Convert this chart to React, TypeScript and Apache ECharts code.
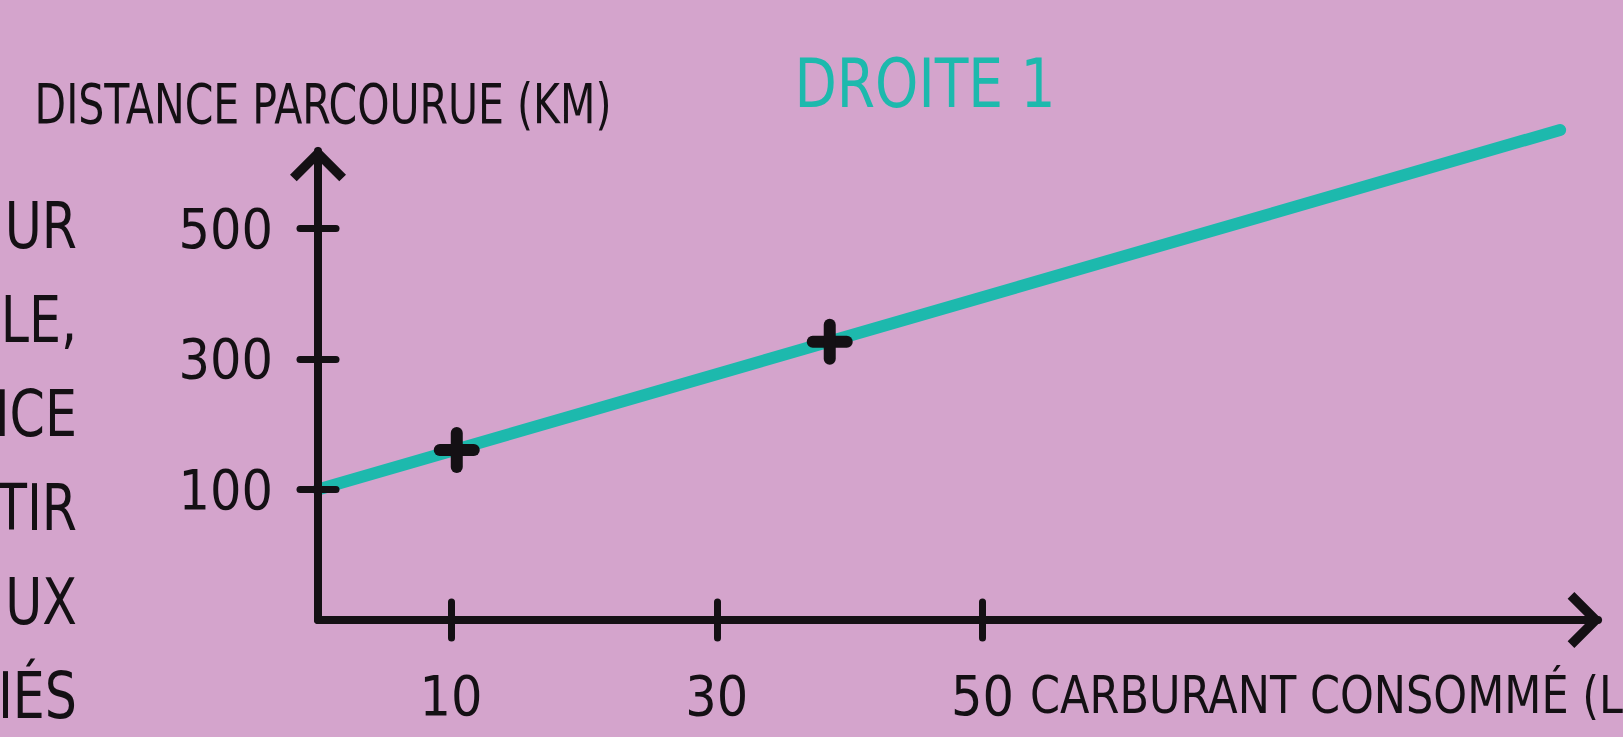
import React, { useEffect, useRef } from 'react';
import * as echarts from 'echarts';

// ---- data ----
const lineFuel = [0, 93.45];
const lineDistance = [100, 651];
const measuredFuel = [10.44, 38.5];
const measuredDistance = [160.5, 326.5];
const xTickValues = [10, 30, 50];
const yTickValues = [100, 300, 500];
const sideTextLines = ['UR', 'LE,', 'NCE', 'TIR', 'UX', 'IÉS'];
const titleText = 'DROITE 1';
const yAxisName = 'DISTANCE PARCOURUE (KM)';
const xAxisName = 'CARBURANT CONSOMMÉ (L)';

// ---- styles ----
const BG = '#d4a4cc';
const TEAL = '#1db9ad';
const INK = '#141014';
const FONT = "'DejaVu Sans Condensed', 'DejaVu Sans', sans-serif";
const CHEVRON = 'path://M25,0 L50,25 L44,31 L25,12 L6,31 L0,25 Z';

const X_MIN = 0;
const X_MAX = 96.3;
const Y_MIN = -100;
const Y_MAX = 618.8;

export default function App() {
  const ref = useRef<HTMLDivElement>(null);

  useEffect(() => {
    if (!ref.current) return;
    const chart = echarts.init(ref.current, null, { renderer: 'svg' });

    const tickStyle = { color: INK, width: 7, cap: 'round' as const };
    const axisLineStyle = { color: INK, width: 8, cap: 'round' as const };
    const labelStyle = { color: INK, fontSize: 55, fontFamily: FONT };

    const option: any = {
      animation: false,
      backgroundColor: BG,
      grid: {
        left: 318,
        right: 25,
        top: 151,
        bottom: 117,
        containLabel: false,
        outerBoundsMode: 'none',
      },
      xAxis: [
        {
          type: 'value',
          min: X_MIN,
          max: X_MAX,
          position: 'bottom',
          z: 10,
          axisLine: {
            show: true,
            onZero: false,
            symbol: ['none', CHEVRON],
            symbolSize: [56, 35],
            symbolOffset: [0, -13],
            lineStyle: axisLineStyle,
          },
          axisTick: { show: true, customValues: xTickValues, length: 18, lineStyle: tickStyle },
          axisLabel: { show: true, customValues: xTickValues, margin: 48, ...labelStyle },
          splitLine: { show: false },
        },
        {
          type: 'value',
          min: X_MIN,
          max: X_MAX,
          position: 'bottom',
          z: 10,
          axisLine: { show: false, onZero: false },
          axisTick: { show: true, inside: true, customValues: xTickValues, length: 18, lineStyle: tickStyle },
          axisLabel: { show: false },
          splitLine: { show: false },
        },
      ],
      yAxis: [
        {
          type: 'value',
          min: Y_MIN,
          max: Y_MAX,
          position: 'left',
          z: 10,
          axisLine: {
            show: true,
            onZero: false,
            symbol: ['none', CHEVRON],
            symbolSize: [56, 35],
            symbolOffset: [0, -13],
            lineStyle: axisLineStyle,
          },
          axisTick: { show: true, customValues: yTickValues, length: 18, lineStyle: tickStyle },
          axisLabel: { show: true, customValues: yTickValues, margin: 45, ...labelStyle },
          splitLine: { show: false },
        },
        {
          type: 'value',
          min: Y_MIN,
          max: Y_MAX,
          position: 'left',
          z: 10,
          axisLine: { show: false, onZero: false },
          axisTick: { show: true, inside: true, customValues: yTickValues, length: 18, lineStyle: tickStyle },
          axisLabel: { show: false },
          splitLine: { show: false },
        },
      ],
      graphic: [
        {
          type: 'text',
          x: 925,
          y: 83,
          scaleX: 0.9,
          style: {
            text: titleText,
            align: 'center',
            textAlign: 'center',
            verticalAlign: 'middle',
            textVerticalAlign: 'middle',
            fontSize: 68,
            fontFamily: FONT,
            fill: TEAL,
          },
        },
        {
          type: 'text',
          x: 323,
          y: 104,
          scaleX: 0.83,
          style: {
            text: yAxisName,
            align: 'center',
            textAlign: 'center',
            verticalAlign: 'middle',
            textVerticalAlign: 'middle',
            fontSize: 55,
            fontFamily: FONT,
            fill: INK,
          },
        },
        {
          type: 'text',
          x: 77,
          y: 179,
          scaleX: 0.88,
          style: {
            text: sideTextLines.join('\n'),
            align: 'right',
            textAlign: 'right',
            verticalAlign: 'top',
            textVerticalAlign: 'top',
            fontSize: 64,
            lineHeight: 94,
            fontFamily: FONT,
            fill: INK,
          },
        },
        {
          type: 'text',
          x: 1030,
          y: 695,
          scaleX: 0.92,
          style: {
            text: xAxisName,
            verticalAlign: 'middle',
            textVerticalAlign: 'middle',
            fontSize: 52,
            fontFamily: FONT,
            fill: INK,
          },
        },
      ],
      series: [
        {
          type: 'line',
          xAxisIndex: 0,
          yAxisIndex: 0,
          data: lineFuel.map((x, i) => [x, lineDistance[i]]),
          showSymbol: false,
          symbol: 'none',
          z: 2,
          lineStyle: { color: TEAL, width: 12, cap: 'round' },
          clip: false,
        },
        {
          type: 'custom',
          xAxisIndex: 0,
          yAxisIndex: 0,
          z: 3,
          clip: false,
          data: measuredFuel.map((x, i) => [x, measuredDistance[i]]),
          renderItem: (params: any, api: any) => {
            const c = api.coord([api.value(0), api.value(1)]);
            const arm = 17;
            const style = { stroke: INK, lineWidth: 12, lineCap: 'round' };
            return {
              type: 'group',
              children: [
                { type: 'line', shape: { x1: c[0] - arm, y1: c[1], x2: c[0] + arm, y2: c[1] }, style },
                { type: 'line', shape: { x1: c[0], y1: c[1] - arm, x2: c[0], y2: c[1] + arm }, style },
              ],
            };
          },
        },
      ],
    };

    chart.setOption(option);
    return () => chart.dispose();
  }, []);

  return (
    <div
      ref={ref}
      style={{ position: 'fixed', left: 0, top: 0, width: 1623, height: 737, background: BG }}
    />
  );
}
